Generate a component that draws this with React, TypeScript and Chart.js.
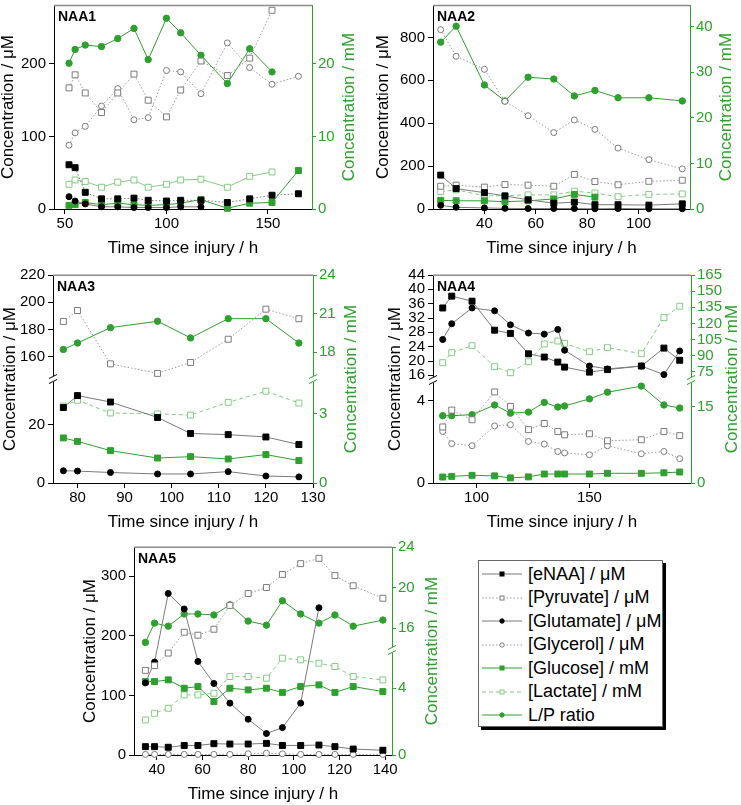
import React, { useEffect, useRef } from 'react';
import { Chart, registerables } from 'chart.js';

Chart.register(...registerables);

const FONT = "'Liberation Sans', Arial, Helvetica, sans-serif";
const GREEN = '#2ea02e';
const LIGHT_GREEN = '#84cc84';
const LINE_GRAY = '#7a7a7a';
const DOT_GRAY = '#9a9a9a';
const OPEN_GRAY = '#7c7c7c';

const X_TITLE = 'Time since injury / h';
const YL_TITLE = 'Concentration / \u03bcM';
const YR_TITLE = 'Concentration / mM';

// ---------------- NAA1 ----------------
const NAA1_TIME = [52, 55, 60, 68, 76, 84, 91, 100, 107, 117, 130, 141, 152, 165];
const NAA1_ENAA = [61, 57, 23, 14, 14, 15, 12, 11, 12, 12, 9, 14, 19, 21];
const NAA1_PYRUVATE = [167, 185, 160, 133, 160, 186, 150, 127, 164, 204, 184, 208, 274, null];
const NAA1_GLUTAMATE = [17, 11, 7, 3, 3, 2, 2, 2, 3, 3, null, null, null, null];
const NAA1_GLYCEROL = [88, 105, 114, 142, 166, 123, 126, 191, 189, 159, 229, 195, 172, 183];
const NAA1_GLUCOSE = [0.5, 0.6, 0.9, 0.6, 0.8, 0.6, 0.5, 0.6, 0.8, 1.3, 0.1, 0.8, 0.9, 5.3];
const NAA1_LACTATE = [3.4, 4.0, 3.8, 3.0, 3.7, 4.0, 3.0, 3.4, 4.0, 4.1, 3.0, 4.5, 5.1, null];
const NAA1_LP = [20.1, 22.0, 22.6, 22.4, 23.5, 24.9, 20.6, 26.3, 24.3, 21.2, 17.3, 22.1, 18.9, null];
const NAA1_XTICKS = [50, 100, 150];
const NAA1_YL_TICKS = [0, 100, 200];
const NAA1_YR_TICKS = [0, 10, 20];

// ---------------- NAA2 ----------------
const NAA2_TIME = [23, 29, 40, 48, 57, 67, 75, 83, 92, 104, 117];
const NAA2_ENAA = [158, 95, 76, 61, 43, 27, 32, 20, 20, 18, 24];
const NAA2_PYRUVATE = [106, 111, 102, 114, 111, 106, 161, 128, 113, 129, 134];
const NAA2_GLUTAMATE = [17, 8, 5, 3, 2, 2, 2, 1, 2, 1, 1];
const NAA2_GLYCEROL = [836, 712, 651, 502, 435, 356, 415, 371, 284, 230, 187];
const NAA2_GLUCOSE = [1.9, 1.8, 1.8, 1.6, 1.8, 2.2, 3.2, 2.6, null, null, null];
const NAA2_LACTATE = [3.8, 4.2, 2.9, 2.9, 3.1, 3.1, 3.9, 3.5, 2.7, 3.2, 3.3];
const NAA2_LP = [36.6, 40.1, 27.2, 23.7, 28.9, 28.5, 24.8, 26.0, 24.4, 24.4, 23.7];
const NAA2_XTICKS = [40, 60, 80, 100];
const NAA2_YL_TICKS = [0, 200, 400, 600, 800];
const NAA2_YR_TICKS = [0, 10, 20, 30, 40];

// ---------------- NAA3 ----------------
const NAA3_TIME = [77, 80, 87, 97, 104, 112, 120, 127];
const NAA3_ENAA = [25.9, 30.0, 27.8, 22.5, 17.0, 16.6, 15.8, 13.2];
const NAA3_PYRUVATE = [186, 194, 155, 148, 156, 173, 195, 188];
const NAA3_GLUTAMATE = [4.2, 4.1, 3.6, 3.1, 3.1, 3.9, 2.4, 2.1];
const NAA3_GLUCOSE = [1.95, 1.8, 1.4, 1.08, 1.14, 1.04, 1.23, 0.97];
const NAA3_LACTATE = [3.33, 3.58, 3.03, 2.99, 2.94, 3.49, 3.97, 3.46];
const NAA3_LP = [18.2, 18.7, 19.9, 20.4, 19.1, 20.6, 20.6, 18.7];
const NAA3_XTICKS = [80, 90, 100, 110, 120, 130];
const NAA3_YL_TOP_TICKS = [160, 180, 200, 220];
const NAA3_YL_BOT_TICKS = [0, 20];
const NAA3_YR_TOP_TICKS = [18, 21, 24];
const NAA3_YR_BOT_TICKS = [0, 3];

// ---------------- NAA4 ----------------
const NAA4_TIME = [85, 89, 98, 108, 115, 123, 130, 136, 139, 150, 158, 173, 183, 190];
const NAA4_ENAA = [34.8, 38.1, 36.7, 28.6, 27.7, 22.0, 21.1, 19.7, 18.3, 16.9, 17.6, 18.6, 23.6, 20.2];
const NAA4_PYRUVATE = [2.72, 3.54, 3.07, 4.42, 3.72, 2.59, 2.89, 2.5, 2.34, 2.39, 2.05, 2.1, 2.5, 2.3];
const NAA4_GLUTAMATE = [26.0, 30.4, 34.8, 34.0, 30.1, 27.8, 27.5, 28.8, 23.0, 18.6, 17.8, 18.6, 16.2, 22.8];
const NAA4_GLYCEROL = [2.5, 1.91, 1.81, 2.77, 2.83, 2.02, 1.89, 1.53, 1.46, 1.37, 1.81, 1.42, 1.53, 1.18];
const NAA4_GLUCOSE = [1.17, 1.3, 1.5, 1.4, 1.0, 1.2, 1.76, 1.76, 1.76, 1.76, 1.9, 1.9, 2.0, 2.15];
const NAA4_LACTATE = [83.4, 92.7, 99.2, 79.7, 74.1, 84.3, 100.8, 103.6, 101.4, 93.6, 97.4, 91.8, 125.3, 135.9];
const NAA4_LP = [13.2, 13.2, 13.4, 15.3, 13.7, 13.9, 15.8, 14.9, 15.1, 16.5, 17.8, 19.0, 15.3, 14.7];
const NAA4_XTICKS = [100, 150];
const NAA4_YL_TOP_TICKS = [16, 20, 24, 28, 32, 36, 40, 44];
const NAA4_YL_BOT_TICKS = [0, 4];
const NAA4_YR_TOP_TICKS = [75, 90, 105, 120, 135, 150, 165];
const NAA4_YR_BOT_TICKS = [0, 15];

// ---------------- NAA5 ----------------
const NAA5_TIME = [35, 39, 45, 52, 58, 65, 72, 80, 88, 95, 103, 111, 118, 126, 139];
const NAA5_ENAA = [14, 14, 13, 16, 16, 19, 18.4, 18.4, 19.5, 16, 16, 16.7, 14, 10, 8];
const NAA5_PYRUVATE = [142, 150, 171, 206, 201, 211, 251, 271, 281, 303, 321, 330, 301, 284, 263];
const NAA5_GLUTAMATE = [121, 156, 271, 245, 157, 120, 87, 60, 36, 46, 87, 247, null, null, null];
const NAA5_GLYCEROL = [1, 1, 1, 1, 1, 1, 1, 2, 3, 2, 1, 1, 1, 1, 1];
const NAA5_GLUCOSE = [4.4, 4.4, 4.5, 4.0, 4.1, 3.2, 4.0, 3.9, 4.0, 3.75, 4.1, 4.2, 3.75, 4.1, 3.8];
const NAA5_LACTATE = [2.1, 2.5, 2.8, 3.6, 3.6, 3.7, 4.7, 4.7, 4.6, 5.8, 5.7, 5.5, 5.3, 4.7, 4.5];
const NAA5_LP = [14.6, 16.5, 16.2, 17.4, 17.4, 17.3, 18.3, 16.7, 16.3, 18.7, 17.4, 16.5, 17.3, 16.2, 16.8];
const NAA5_XTICKS = [40, 60, 80, 100, 120, 140];
const NAA5_YL_TICKS = [0, 100, 200, 300];
const NAA5_YR_TOP_TICKS = [16, 20, 24];
const NAA5_YR_BOT_TICKS = [0, 4];

// ---------------- legend ----------------
const LEGEND_LABELS = [
  '[eNAA] / \u03bcM',
  '[Pyruvate] / \u03bcM',
  '[Glutamate] / \u03bcM',
  '[Glycerol] / \u03bcM',
  '[Glucose] / mM',
  '[Lactate] / mM',
  'L/P ratio',
];

type SeriesKey = 'eNAA' | 'pyruvate' | 'glutamate' | 'glycerol' | 'glucose' | 'lactate' | 'lp';
const LEGEND_KEYS: SeriesKey[] = ['eNAA', 'pyruvate', 'glutamate', 'glycerol', 'glucose', 'lactate', 'lp'];

const STYLE: Record<SeriesKey, any> = {
  eNAA: { borderColor: LINE_GRAY, borderDash: [], pointStyle: 'rect', pointRadius: 4.2, pointBackgroundColor: '#000', pointBorderColor: '#000' },
  pyruvate: { borderColor: DOT_GRAY, borderDash: [1.5, 2], pointStyle: 'rect', pointRadius: 4.2, pointBackgroundColor: '#fff', pointBorderColor: OPEN_GRAY },
  glutamate: { borderColor: LINE_GRAY, borderDash: [], pointStyle: 'circle', pointRadius: 3, pointBackgroundColor: '#000', pointBorderColor: '#000' },
  glycerol: { borderColor: DOT_GRAY, borderDash: [1.5, 2], pointStyle: 'circle', pointRadius: 3, pointBackgroundColor: '#fff', pointBorderColor: OPEN_GRAY },
  glucose: { borderColor: GREEN, borderDash: [], pointStyle: 'rect', pointRadius: 4.2, pointBackgroundColor: GREEN, pointBorderColor: GREEN },
  lactate: { borderColor: LIGHT_GREEN, borderDash: [4, 3], pointStyle: 'rect', pointRadius: 4.2, pointBackgroundColor: '#fff', pointBorderColor: LIGHT_GREEN },
  lp: { borderColor: GREEN, borderDash: [], pointStyle: 'circle', pointRadius: 3.2, pointBackgroundColor: GREEN, pointBorderColor: GREEN },
};

type Seg = { id: string; min: number; max: number; ticks: number[]; px: number };
type Series = { key: SeriesKey; t: number[]; v: (number | null)[]; axis: string; dash?: number[] };
type Panel = {
  label: string;
  box: [number, number, number, number];
  pad: number;
  leftW: number;
  rightW: number;
  bottomH: number;
  x: { min: number; max: number; ticks: number[] };
  left: Seg[];
  right: Seg[];
  leftOff: number;
  rightOff: number;
  series: Series[];
};

const PANELS: Panel[] = [
  {
    label: 'NAA1', box: [0, 0, 370, 262], pad: 1, leftW: 54, rightW: 58, bottomH: 53,
    x: { min: 44.6, max: 171.7, ticks: NAA1_XTICKS },
    left: [{ id: 'yL', min: 0, max: 281, ticks: NAA1_YL_TICKS, px: 208 }],
    right: [{ id: 'yR', min: 0, max: 28.1, ticks: NAA1_YR_TICKS, px: 208 }],
    leftOff: 45.5, rightOff: 37.5,
    series: [
      { key: 'eNAA', t: NAA1_TIME, v: NAA1_ENAA, axis: 'yL', dash: [1.5, 2] },
      { key: 'pyruvate', t: NAA1_TIME, v: NAA1_PYRUVATE, axis: 'yL' },
      { key: 'glutamate', t: NAA1_TIME, v: NAA1_GLUTAMATE, axis: 'yL' },
      { key: 'glycerol', t: NAA1_TIME, v: NAA1_GLYCEROL, axis: 'yL' },
      { key: 'glucose', t: NAA1_TIME, v: NAA1_GLUCOSE, axis: 'yR' },
      { key: 'lactate', t: NAA1_TIME, v: NAA1_LACTATE, axis: 'yR', dash: [] },
      { key: 'lp', t: NAA1_TIME, v: NAA1_LP, axis: 'yR' },
    ],
  },
  {
    label: 'NAA2', box: [370, 0, 371, 262], pad: 1, leftW: 63, rightW: 51, bottomH: 53,
    x: { min: 20, max: 120, ticks: NAA2_XTICKS },
    left: [{ id: 'yL', min: 0, max: 950, ticks: NAA2_YL_TICKS, px: 208 }],
    right: [{ id: 'yR', min: 0, max: 44.7, ticks: NAA2_YR_TICKS, px: 208 }],
    leftOff: 50, rightOff: 36,
    series: [
      { key: 'eNAA', t: NAA2_TIME, v: NAA2_ENAA, axis: 'yL' },
      { key: 'pyruvate', t: NAA2_TIME, v: NAA2_PYRUVATE, axis: 'yL' },
      { key: 'glutamate', t: NAA2_TIME, v: NAA2_GLUTAMATE, axis: 'yL' },
      { key: 'glycerol', t: NAA2_TIME, v: NAA2_GLYCEROL, axis: 'yL' },
      { key: 'glucose', t: NAA2_TIME, v: NAA2_GLUCOSE, axis: 'yR' },
      { key: 'lactate', t: NAA2_TIME, v: NAA2_LACTATE, axis: 'yR' },
      { key: 'lp', t: NAA2_TIME, v: NAA2_LP, axis: 'yR' },
    ],
  },
  {
    label: 'NAA3', box: [0, 262, 370, 270], pad: 13, leftW: 53, rightW: 57, bottomH: 49,
    x: { min: 74.8, max: 130, ticks: NAA3_XTICKS },
    left: [
      { id: 'yLT', min: 143.9, max: 220, ticks: NAA3_YL_TOP_TICKS, px: 104 },
      { id: 'yLB', min: 0, max: 35.7, ticks: NAA3_YL_BOT_TICKS, px: 104 },
    ],
    right: [
      { id: 'yRT', min: 15.9, max: 24, ticks: NAA3_YR_TOP_TICKS, px: 104 },
      { id: 'yRB', min: 0, max: 4.5, ticks: NAA3_YR_BOT_TICKS, px: 104 },
    ],
    leftOff: 43, rightOff: 38,
    series: [
      { key: 'eNAA', t: NAA3_TIME, v: NAA3_ENAA, axis: 'yLB' },
      { key: 'pyruvate', t: NAA3_TIME, v: NAA3_PYRUVATE, axis: 'yLT' },
      { key: 'glutamate', t: NAA3_TIME, v: NAA3_GLUTAMATE, axis: 'yLB' },
      { key: 'glucose', t: NAA3_TIME, v: NAA3_GLUCOSE, axis: 'yRB' },
      { key: 'lactate', t: NAA3_TIME, v: NAA3_LACTATE, axis: 'yRB' },
      { key: 'lp', t: NAA3_TIME, v: NAA3_LP, axis: 'yRT' },
    ],
  },
  {
    label: 'NAA4', box: [370, 262, 371, 270], pad: 13, leftW: 63, rightW: 50, bottomH: 49,
    x: { min: 80.7, max: 195, ticks: NAA4_XTICKS },
    left: [
      { id: 'yLT', min: 14.7, max: 44, ticks: NAA4_YL_TOP_TICKS, px: 105 },
      { id: 'yLB', min: 0, max: 5.0, ticks: NAA4_YL_BOT_TICKS, px: 103 },
    ],
    right: [
      { id: 'yRT', min: 67.3, max: 165, ticks: NAA4_YR_TOP_TICKS, px: 105 },
      { id: 'yRB', min: 0, max: 20.2, ticks: NAA4_YR_BOT_TICKS, px: 103 },
    ],
    leftOff: 38, rightOff: 41,
    series: [
      { key: 'eNAA', t: NAA4_TIME, v: NAA4_ENAA, axis: 'yLT' },
      { key: 'pyruvate', t: NAA4_TIME, v: NAA4_PYRUVATE, axis: 'yLB' },
      { key: 'glutamate', t: NAA4_TIME, v: NAA4_GLUTAMATE, axis: 'yLT' },
      { key: 'glycerol', t: NAA4_TIME, v: NAA4_GLYCEROL, axis: 'yLB' },
      { key: 'glucose', t: NAA4_TIME, v: NAA4_GLUCOSE, axis: 'yRB' },
      { key: 'lactate', t: NAA4_TIME, v: NAA4_LACTATE, axis: 'yRT' },
      { key: 'lp', t: NAA4_TIME, v: NAA4_LP, axis: 'yRB' },
    ],
  },
  {
    label: 'NAA5', box: [60, 532, 400, 273], pad: 15, leftW: 74, rightW: 68, bottomH: 50,
    x: { min: 30, max: 143, ticks: NAA5_XTICKS },
    left: [{ id: 'yL', min: 0, max: 349, ticks: NAA5_YL_TICKS, px: 208 }],
    right: [
      { id: 'yRT', min: 13.85, max: 24, ticks: NAA5_YR_TOP_TICKS, px: 103 },
      { id: 'yRB', min: 0, max: 6.29, ticks: NAA5_YR_BOT_TICKS, px: 105 },
    ],
    leftOff: 44, rightOff: 40,
    series: [
      { key: 'eNAA', t: NAA5_TIME, v: NAA5_ENAA, axis: 'yL' },
      { key: 'pyruvate', t: NAA5_TIME, v: NAA5_PYRUVATE, axis: 'yL' },
      { key: 'glutamate', t: NAA5_TIME, v: NAA5_GLUTAMATE, axis: 'yL' },
      { key: 'glycerol', t: NAA5_TIME, v: NAA5_GLYCEROL, axis: 'yL' },
      { key: 'glucose', t: NAA5_TIME, v: NAA5_GLUCOSE, axis: 'yRB' },
      { key: 'lactate', t: NAA5_TIME, v: NAA5_LACTATE, axis: 'yRB' },
      { key: 'lp', t: NAA5_TIME, v: NAA5_LP, axis: 'yRT' },
    ],
  },
];

const decoPlugin = {
  id: 'panelDeco',
  afterDraw(chart: any, _args: any, d: any) {
    if (!d || !d.label) return;
    const { ctx, chartArea: a } = chart;
    ctx.save();
    ctx.setLineDash([]);
    // top frame
    ctx.strokeStyle = '#8c8c8c';
    ctx.lineWidth = 1.5;
    ctx.beginPath();
    ctx.moveTo(a.left, a.top + 0.25);
    ctx.lineTo(a.right, a.top + 0.25);
    ctx.stroke();
    // axis breaks
    const drawBreak = (x: number, y: number, color: string) => {
      ctx.fillStyle = '#fff';
      ctx.fillRect(x - 2, y - 3, 4, 6);
      ctx.strokeStyle = color;
      ctx.lineWidth = 1;
      for (const dy of [-2.5, 2.5]) {
        ctx.beginPath();
        ctx.moveTo(x - 4, y + dy + 2);
        ctx.lineTo(x + 4, y + dy - 2);
        ctx.stroke();
      }
    };
    if (d.leftBreak) drawBreak(a.left, chart.scales[d.leftBreak].bottom, '#000');
    if (d.rightBreak) drawBreak(a.right, chart.scales[d.rightBreak].bottom, GREEN);
    // panel label
    ctx.fillStyle = '#000';
    ctx.font = `bold 14px ${FONT}`;
    ctx.textAlign = 'left';
    ctx.textBaseline = 'alphabetic';
    ctx.fillText(d.label, a.left + 4, a.top + 15.5);
    // titles
    ctx.font = `17px ${FONT}`;
    ctx.textAlign = 'center';
    ctx.textBaseline = 'middle';
    ctx.fillText(X_TITLE, (a.left + a.right) / 2, a.bottom + 39);
    const rot = (x: number, text: string, color: string) => {
      ctx.save();
      ctx.translate(x, (a.top + a.bottom) / 2);
      ctx.rotate(-Math.PI / 2);
      ctx.fillStyle = color;
      ctx.fillText(text, 0, 0);
      ctx.restore();
    };
    rot(a.left - d.leftOff, YL_TITLE, '#000');
    rot(a.right + d.rightOff, YR_TITLE, GREEN);
    ctx.restore();
  },
};

function buildConfig(p: Panel): any {
  const scales: any = {};
  scales.x = {
    type: 'linear',
    position: 'bottom',
    min: p.x.min,
    max: p.x.max,
    afterBuildTicks: (sc: any) => {
      sc.ticks = p.x.ticks.map((v) => ({ value: v }));
    },
    afterFit: (sc: any) => {
      sc.height = p.bottomH;
      sc.paddingLeft = 0;
      sc.paddingRight = 0;
    },
    ticks: { color: '#000', font: { family: FONT, size: 15 }, padding: 1, autoSkip: false, maxRotation: 0, callback: (v: any) => String(v) },
    grid: { drawOnChartArea: false, drawTicks: true, tickLength: 5, color: '#000', tickColor: '#000' },
    border: { display: true, color: '#000', width: 1 },
  };
  const addSegs = (segs: Seg[], pos: 'left' | 'right') => {
    const stacked = segs.length > 1;
    const color = pos === 'left' ? '#000' : GREEN;
    segs.forEach((s, i) => {
      const sc: any = {
        type: 'linear',
        position: pos,
        min: s.min,
        max: s.max,
        afterBuildTicks: (scale: any) => {
          scale.ticks = s.ticks.map((v) => ({ value: v }));
        },
        afterFit: (scale: any) => {
          scale.width = pos === 'left' ? p.leftW : p.rightW;
          scale.paddingTop = 0;
          scale.paddingBottom = 0;
        },
        ticks: { color, font: { family: FONT, size: 15 }, padding: pos === 'left' ? 3 : 2, autoSkip: false, callback: (v: any) => String(v) },
        grid: { drawOnChartArea: false, drawTicks: true, tickLength: pos === 'left' ? 5 : 4, color, tickColor: color },
        border: { display: true, color, width: 1 },
      };
      if (stacked) {
        sc.stack = pos + 'Stack';
        sc.stackWeight = s.px;
        sc.weight = pos === 'left' ? segs.length - i : i;
      }
      scales[s.id] = sc;
    });
  };
  addSegs(p.left, 'left');
  addSegs(p.right, 'right');

  const datasets = p.series.map((s) => {
    const st = STYLE[s.key];
    return {
      type: 'line',
      label: s.key,
      data: s.t.map((t, i) => ({ x: t, y: s.v[i] })).filter((d) => d.y !== null && d.y !== undefined),
      yAxisID: s.axis,
      ...st,
      borderDash: s.dash ?? st.borderDash,
      borderWidth: 1,
      pointBorderWidth: 1,
      fill: false,
      tension: 0,
      clip: false,
    };
  });

  return {
    type: 'line',
    data: { datasets },
    options: {
      responsive: false,
      animation: false,
      devicePixelRatio: 1,
      events: [],
      layout: { padding: { top: p.pad, left: 0, right: 0, bottom: 0 } },
      scales,
      plugins: {
        legend: { display: false },
        tooltip: { enabled: false },
        panelDeco: {
          label: p.label,
          leftOff: p.leftOff,
          rightOff: p.rightOff,
          leftBreak: p.left.length > 1 ? p.left[0].id : '',
          rightBreak: p.right.length > 1 ? p.right[0].id : '',
        },
      },
    },
    plugins: [decoPlugin],
  };
}

function PanelChart({ panel }: { panel: Panel }) {
  const ref = useRef<HTMLCanvasElement>(null);
  useEffect(() => {
    if (!ref.current) return;
    const chart = new Chart(ref.current, buildConfig(panel));
    return () => chart.destroy();
  }, [panel]);
  const [l, t, w, h] = panel.box;
  return (
    <canvas
      ref={ref}
      width={w}
      height={h}
      style={{ position: 'absolute', left: l, top: t, width: w, height: h }}
    />
  );
}

function LegendSample({ k }: { k: SeriesKey }) {
  const st = STYLE[k];
  const dash = st.borderDash && st.borderDash.length ? st.borderDash.join(' ') : undefined;
  const isRect = st.pointStyle === 'rect';
  return (
    <svg width={42} height={12} style={{ display: 'block' }}>
      <line x1={1} y1={6} x2={41} y2={6} stroke={st.borderColor} strokeWidth={1} strokeDasharray={dash} />
      {isRect ? (
        <rect x={19} y={4} width={4} height={4} fill={st.pointBackgroundColor} stroke={st.pointBorderColor} strokeWidth={1} />
      ) : (
        <circle cx={21} cy={6} r={2.2} fill={st.pointBackgroundColor} stroke={st.pointBorderColor} strokeWidth={1} />
      )}
    </svg>
  );
}

function Legend() {
  return (
    <div
      style={{
        position: 'absolute',
        left: 478,
        top: 560,
        width: 185,
        height: 167,
        boxSizing: 'border-box',
        border: '1px solid #666',
        boxShadow: '3px 3px 0 #000',
        background: '#fff',
      }}
    >
      {LEGEND_KEYS.map((k, i) => (
        <div
          key={k}
          style={{
            position: 'absolute',
            left: 2,
            top: 13 + i * 23.5 - 11,
            height: 22,
            display: 'flex',
            alignItems: 'center',
            whiteSpace: 'nowrap',
          }}
        >
          <LegendSample k={k} />
          <span style={{ fontFamily: FONT, fontSize: 18, marginLeft: 5, color: '#000' }}>{LEGEND_LABELS[i]}</span>
        </div>
      ))}
    </div>
  );
}

export default function App() {
  return (
    <div style={{ position: 'absolute', left: 0, top: 0, width: 741, height: 805, background: '#fff', overflow: 'hidden' }}>
      {PANELS.map((p) => (
        <PanelChart key={p.label} panel={p} />
      ))}
      <Legend />
    </div>
  );
}
